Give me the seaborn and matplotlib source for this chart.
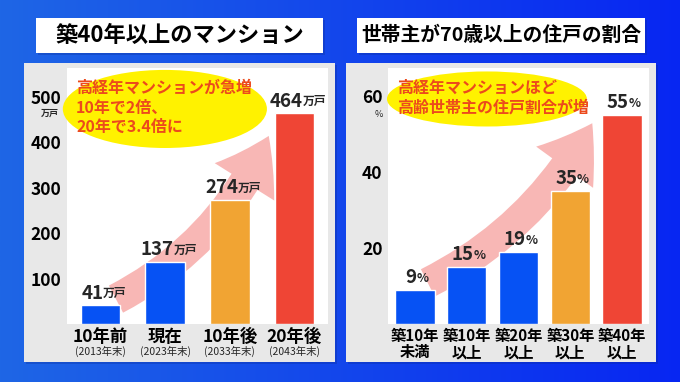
import matplotlib
matplotlib.use("Agg")
import matplotlib.pyplot as plt
import matplotlib.transforms as mtransforms
from matplotlib.patches import Rectangle, Ellipse, FancyArrowPatch
import seaborn as sns
import numpy as np

# left chart: condos 40+ years old (10k units)
left_title = "築40年以上のマンション"
left_cats = ["10年前", "現在", "10年後", "20年後"]
left_subs = ["(2013年末)", "(2023年末)", "(2033年末)", "(2043年末)"]
left_vals = [41, 137, 274, 464]
left_ticks = [100, 200, 300, 400, 500]
left_note = "高経年マンションが急増\n10年で2倍、\n20年で3.4倍に"

# right chart: share of households headed by 70+
right_title = "世帯主が70歳以上の住戸の割合"
right_cats = ["築10年\n未満", "築10年\n以上", "築20年\n以上", "築30年\n以上", "築40年\n以上"]
right_vals = [9, 15, 19, 35, 55]
right_ticks = [20, 40, 60]
right_note = "高経年マンションほど\n高齢世帯主の住戸割合が増"

BLUE, ORANGE, RED = "#0652f4", "#f1a433", "#ef4535"
left_colors = [BLUE, BLUE, ORANGE, RED]
right_colors = [BLUE, BLUE, BLUE, ORANGE, RED]
NOTE_COLOR = "#ec4a1c"
ARROW_COLOR = "#f8b7b5"

sns.set_theme(style="white")
plt.rcParams["font.family"] = ["Noto Sans CJK JP", "DejaVu Sans"]

W, H = 680, 382
fig = plt.figure(figsize=(W / 100, H / 100), dpi=100)


def fr(x0, y0, x1, y1):
    # pixel box -> figure fraction [left, bottom, width, height]
    return [x0 / W, 1 - y1 / H, (x1 - x0) / W, (y1 - y0) / H]


# blue gradient background
bg = fig.add_axes([0, 0, 1, 1])
grad = np.linspace(0, 1, 256)[None, :]
c0 = np.array([0.12, 0.40, 0.90])
c1 = np.array([0.03, 0.15, 0.95])
img = c0[None, None, :] * (1 - grad[..., None]) + c1[None, None, :] * grad[..., None]
bg.imshow(img, aspect="auto", extent=[0, 1, 0, 1])
bg.set_xlim(0, 1)
bg.set_ylim(0, 1)
bg.axis("off")

for (x0, x1) in [(24, 335), (346, 656)]:
    l, b, w, h = fr(x0, 63, x1, 362)
    bg.add_patch(Rectangle((l + 0.003, b - 0.006), w, h, color="#0a2a90", alpha=0.3, lw=0))
    bg.add_patch(Rectangle((l, b), w, h, color="#e8e8e8", lw=0))

for (x0, x1), title, fs in [((36, 323), left_title, 16), ((357, 645), right_title, 14.2)]:
    l, b, w, h = fr(x0, 18, x1, 53)
    bg.add_patch(Rectangle((l + 0.003, b - 0.006), w, h, color="#0a2a90", alpha=0.3, lw=0))
    bg.add_patch(Rectangle((l, b), w, h, color="white", lw=0))
    bg.text(l + w / 2, b + h / 2, title, ha="center", va="center",
            fontsize=fs, fontweight="bold", color="black")


def draw_panel(box, cats, vals, colors, width, ylim, ticks, unit, unit_fs,
               num_shift, note, ell, arrow, rad):
    ax = fig.add_axes(fr(*box))
    ax.set_facecolor("white")
    sns.barplot(x=cats, y=vals, hue=cats, palette=colors, width=width,
                saturation=1, legend=False, ax=ax, zorder=2)
    ax.set_xlim(-0.52, len(cats) - 0.48)
    ax.set_ylim(*ylim)
    for s in ax.spines.values():
        s.set_visible(False)
    ax.set_yticks(ticks)
    ax.set_yticklabels([str(t) for t in ticks], fontsize=12.5, fontweight="bold")
    ax.tick_params(axis="both", length=0, colors="black")
    ax.tick_params(axis="y", pad=4)
    ax.set_xlabel("")
    ax.set_ylabel("")

    # value labels: number + small unit
    for i, v in enumerate(vals):
        t = ax.annotate(str(v), xy=(i, v), xytext=(-num_shift, 2),
                        textcoords="offset points", ha="center", va="bottom",
                        fontsize=13.5, fontweight="bold", zorder=6)
        ax.annotate(unit, xy=(1, 0.12), xycoords=t, ha="left", va="bottom",
                    fontsize=unit_fs, fontweight="bold", zorder=6)

    # yellow callout
    ex, ey, ew, eh = ell
    ax.add_patch(Ellipse((ex, ey), ew, eh, transform=ax.transAxes,
                         color="#fff200", lw=0, zorder=4, clip_on=False))
    ax.text(0.035, 0.955, note, transform=ax.transAxes, ha="left", va="top",
            fontsize=11.5, fontweight="bold", color=NOTE_COLOR,
            linespacing=1.3, zorder=5)

    # pink arrow
    (x0, y0), (x1, y1) = arrow
    ax.add_patch(FancyArrowPatch((x0, y0), (x1, y1),
                                 arrowstyle="simple,head_length=3.4,head_width=4.6,tail_width=2.0",
                                 mutation_scale=11, connectionstyle=f"arc3,rad={rad}",
                                 color=ARROW_COLOR, lw=0, zorder=1))
    return ax


axl = draw_panel((67, 68, 328, 324), left_cats, left_vals, left_colors, 0.61,
                 (0, 564), left_ticks, "万戸", 8.5, 6, left_note,
                 (0.375, 0.84, 0.782, 0.305), ((0.2, 52), (2.62, 420)), 0.18)
axl.set_xticklabels(left_cats, fontsize=12.5, fontweight="bold")
axl.tick_params(axis="x", pad=3)
blend = mtransforms.blended_transform_factory(axl.transData, axl.transAxes)
for i, s in enumerate(left_subs):
    axl.text(i, -0.107, s, transform=blend, ha="center", va="center", fontsize=7.5)
axl.text(-0.065, 0.822, "万戸", transform=axl.transAxes, ha="center",
         va="center", fontsize=6.5, fontweight="bold")

axr = draw_panel((388, 68, 649, 324), right_cats, right_vals, right_colors, 0.76,
                 (0, 67.4), right_ticks, "%", 9, 3, right_note,
                 (0.379, 0.879, 0.766, 0.215), ((0.2, 10.5), (3.45, 53.5)), 0.16)
axr.set_xticklabels(right_cats, fontsize=11, fontweight="bold", linespacing=1.0)
axr.tick_params(axis="x", pad=3)
axr.text(-0.035, 0.82, "%", transform=axr.transAxes, ha="center",
         va="center", fontsize=6.5)

fig.savefig("out.png", dpi=100)
